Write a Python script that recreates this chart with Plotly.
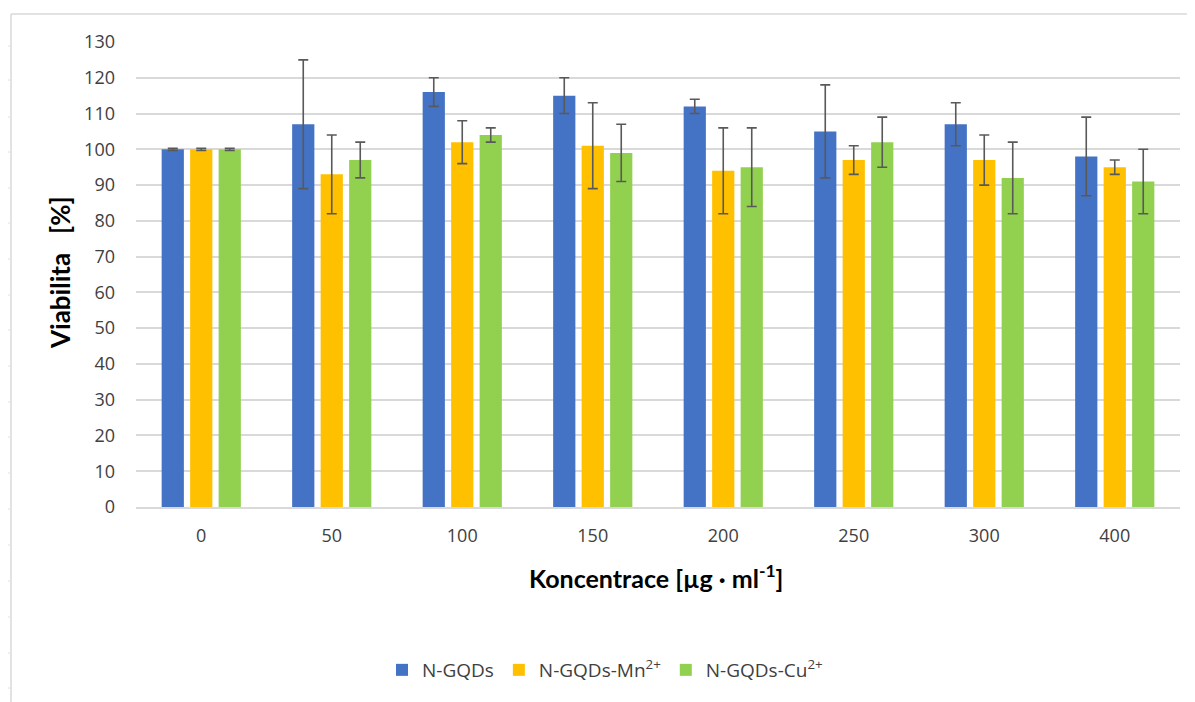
import plotly.graph_objects as go

categories = ["0", "50", "100", "150", "200", "250", "300", "400"]
series_names = ["N-GQDs", "N-GQDs-Mn<sup>2+</sup>", "N-GQDs-Cu<sup>2+</sup>"]
ngqds = [100, 107, 116, 115, 112, 105, 107, 98]
ngqds_err = [0.3, 18, 4, 5, 2, 13, 6, 11]
mn = [100, 93, 102, 101, 94, 97, 97, 95]
mn_err = [0.3, 11, 6, 12, 12, 4, 7, 2]
cu = [100, 97, 104, 99, 95, 102, 92, 91]
cu_err = [0.3, 5, 2, 8, 11, 7, 10, 9]
colors = ["#4472C4", "#FFC000", "#92D050"]
y_ticks = list(range(0, 131, 10))

fig = go.Figure()
for name, vals, errs, col in zip(series_names, [ngqds, mn, cu], [ngqds_err, mn_err, cu_err], colors):
    fig.add_trace(go.Bar(
        x=categories, y=vals, name=name,
        marker=dict(color=col, line=dict(width=0)),
        error_y=dict(type="data", array=errs, visible=True, color="#595959", thickness=1.6, width=5),
    ))

# page body has an 8px margin, so figure pixel = screen pixel - 8
OFF = 8
W, H = 1195 - OFF, 702 - OFF
L, T = 136 - OFF, 42 - OFF
R = W - (1180 - OFF)
B = H - (507 - OFF)
pw, ph = W - L - R, H - T - B

def px(x):  # screen x -> paper
    return (x - OFF - L) / pw

def py(y):  # screen y -> paper
    return (H - B - (y - OFF)) / ph

fig.update_layout(
    width=W, height=H,
    margin=dict(l=L, r=R, t=T, b=B),
    paper_bgcolor="white", plot_bgcolor="white",
    barmode="group", bargap=0.345, bargroupgap=0.22,
    font=dict(family="Open Sans", color="#404040", size=18),
    showlegend=True,
    legend=dict(orientation="h", x=px(605), xanchor="center", y=py(670), yanchor="middle",
                font=dict(size=19, color="#404040"), traceorder="normal",
                bgcolor="rgba(0,0,0,0)"),
    xaxis=dict(type="category", showgrid=False, showline=True, linecolor="#D9D9D9", linewidth=1.5,
               ticks="", tickfont=dict(size=18, color="#404040"), ticklabelstandoff=12),
    yaxis=dict(range=[0, 130], tickvals=y_ticks, showgrid=True, gridcolor="#D9D9D9", gridwidth=1.5,
               zeroline=False, showline=False, ticks="", tickfont=dict(size=18, color="#404040"),
               ticklabelstandoff=20),
    annotations=[
        dict(text="Viabilita&nbsp;&nbsp;&nbsp;[%]", xref="paper", yref="paper", x=px(60), y=py(273),
             xanchor="center", yanchor="middle", textangle=-90, showarrow=False,
             font=dict(family="Lato", size=26, color="#000000", weight="bold")),
        dict(text="Koncentrace [µg · ml<sup>-1</sup>]", xref="paper", yref="paper", x=px(656), y=py(576),
             xanchor="center", yanchor="middle", showarrow=False,
             font=dict(family="Lato", size=25, color="#000000", weight="bold")),
    ],
)

shapes = [
    dict(type="line", xref="paper", yref="paper", x0=px(11), x1=px(11), y0=py(14), y1=py(720),
         line=dict(color="#D9D9D9", width=1.5)),
    dict(type="line", xref="paper", yref="paper", x0=px(11), x1=px(1192), y0=py(14), y1=py(14),
         line=dict(color="#D9D9D9", width=1.5)),
    dict(type="line", xref="paper", yref="paper", x0=px(1192), x1=px(1192), y0=py(14), y1=py(720),
         line=dict(color="#D9D9D9", width=1.5)),
]
for yy in [46, 80, 117, 152, 188, 223, 259, 295, 330, 366, 402, 437, 473, 509, 545, 581, 617, 653, 688]:
    shapes.append(dict(type="line", xref="paper", yref="paper", x0=px(7), x1=px(11), y0=py(yy), y1=py(yy),
                       line=dict(color="#E0E0E0", width=1)))
fig.update_layout(shapes=shapes)

fig.write_html("out.html")
